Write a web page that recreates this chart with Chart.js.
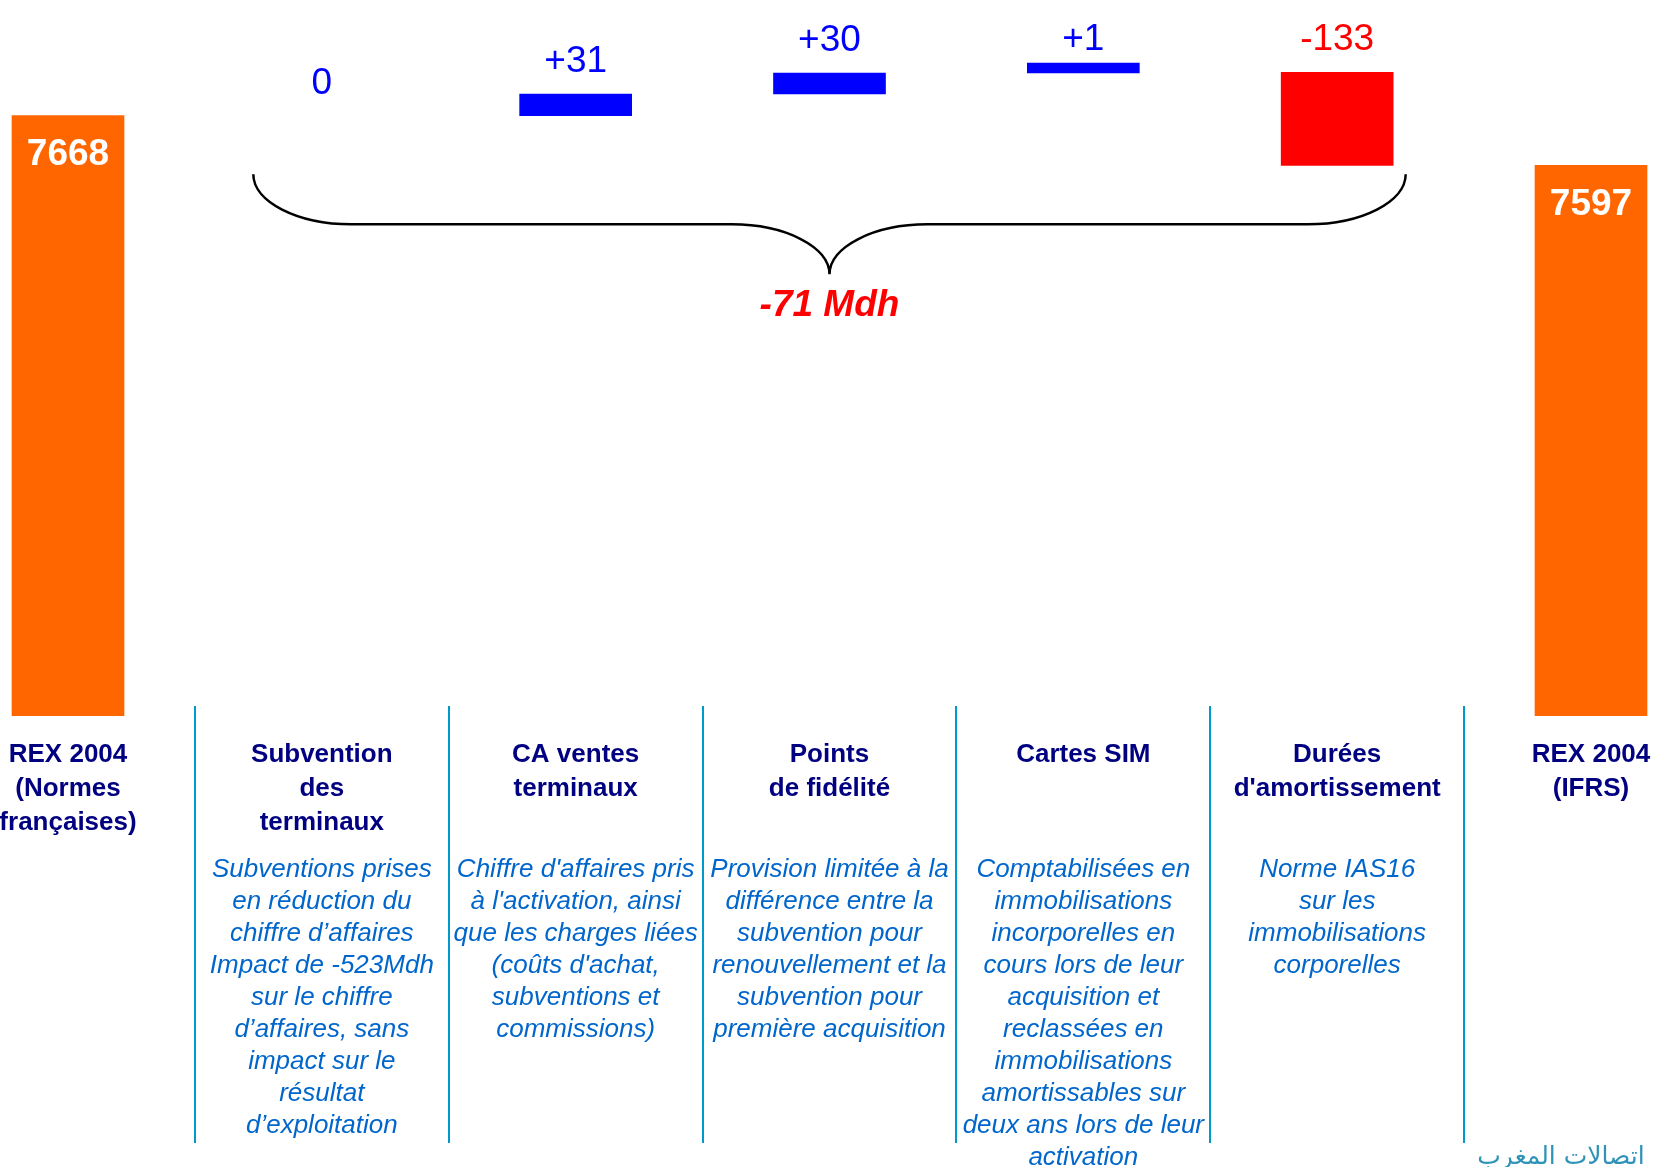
<!DOCTYPE html>
<html lang="fr">
<head>
<meta charset="utf-8">
<title>REX 2004 : passage des normes françaises aux IFRS</title>
<script src="https://cdn.jsdelivr.net/npm/chart.js@4.4.1/dist/chart.umd.min.js"></script>
<style>
  html, body { margin: 0; padding: 0; background: #ffffff; }
  #wrap { position: relative; width: 1657px; height: 1167px; }
</style>
</head>
<body>
<div id="wrap"><canvas id="bridge"></canvas></div>
<script>
// ---- Data (Mdh) ----
const categories = [
  ['REX 2004', '(Normes', 'françaises)'],
  ['Subvention', 'des', 'terminaux'],
  ['CA ventes', 'terminaux'],
  ['Points', 'de fidélité'],
  ['Cartes SIM'],
  ['Durées', "d'amortissement"],
  ['REX 2004', '(IFRS)']
];
const openingTotal = 7668;                 // REX 2004, normes françaises
const adjustments = [0, 31, 30, 1, -133];  // retraitements IFRS, dans l'ordre des colonnes
const closingTotal = 7597;                 // REX 2004, IFRS
const notes = [
  [],
  ['Subventions prises', 'en réduction du', 'chiffre d’affaires', 'Impact de -523Mdh', 'sur le chiffre', 'd’affaires, sans', 'impact sur le', 'résultat', 'd’exploitation'],
  ["Chiffre d'affaires pris", "à l'activation, ainsi", 'que les charges liées', "(coûts d'achat,", 'subventions et', 'commissions)'],
  ['Provision limitée à la', 'différence entre la', 'subvention pour', 'renouvellement et la', 'subvention pour', 'première acquisition'],
  ['Comptabilisées en', 'immobilisations', 'incorporelles en', 'cours lors de leur', 'acquisition et', 'reclassées en', 'immobilisations', 'amortissables sur', 'deux ans lors de leur', 'activation'],
  ['Norme IAS16', 'sur les', 'immobilisations', 'corporelles'],
  []
];
const unitLabel = 'Mdh';
const brandName = 'اتصالات المغرب';

// ---- Bridge construction ----
const n = categories.length;
const totals = new Array(n).fill(null);
totals[0] = openingTotal;
totals[n - 1] = closingTotal;
const ups = new Array(n).fill(null);
const downs = new Array(n).fill(null);
const steps = [];
let running = openingTotal;
adjustments.forEach((delta, i) => {
  const idx = i + 1;
  const from = running, to = running + delta;
  if (delta > 0) ups[idx] = [from, to];
  else if (delta < 0) downs[idx] = [from, to];
  steps.push({ idx, delta, from, to });
  running = to;
});
const netChange = adjustments.reduce((a, b) => a + b, 0);

const FONT = '"Liberation Sans", Arial, Helvetica, sans-serif';
const ORANGE = '#ff6600', BLUE = '#0000ff', RED = '#ff0000';
const NAVY = '#000080', NOTE_BLUE = '#0066cc', RULE_BLUE = '#0099cc';
const CANVAS_H = 1167;
const AXIS_BAND = 451;   // height reserved under the plot for labels and notes
// The value axis is truncated: columns rise from zero but only the top of the range is shown.
const AXIS_MIN = 6810, AXIS_MAX = 7819;

const annotations = {
  id: 'annotations',
  afterDatasetsDraw(chart) {
    const { ctx, chartArea, scales: { x, y } } = chart;
    const px = i => x.getPixelForValue(i);
    const step = px(1) - px(0);
    ctx.save();
    ctx.textAlign = 'center';
    ctx.textBaseline = 'middle';

    // Totals printed inside the orange columns
    ctx.font = 'bold 37px ' + FONT;
    ctx.fillStyle = '#ffffff';
    [[0, openingTotal], [n - 1, closingTotal]].forEach(([i, v]) => {
      ctx.fillText(String(v), px(i), y.getPixelForValue(v) + 39);
    });

    // Adjustment values above each step
    ctx.font = '37px ' + FONT;
    steps.forEach(s => {
      const top = y.getPixelForValue(Math.max(s.from, s.to));
      ctx.fillStyle = s.delta < 0 ? RED : BLUE;
      const txt = s.delta > 0 ? '+' + s.delta : String(s.delta);
      ctx.fillText(txt, px(s.idx), top - 32);
    });

    // Curly brace spanning the adjustments
    const first = steps[0].idx, last = steps[steps.length - 1].idx;
    const x0 = px(first) - 0.27 * step;
    const x1 = px(last) + 0.27 * step;
    const low = Math.min(...steps.map(s => Math.min(s.from, s.to)));
    const yEnd = y.getPixelForValue(low) + 9;
    const h = 50, w = 98, k = 0.55;
    const yBar = yEnd + h, yTip = yBar + h;
    const mid = (x0 + x1) / 2;
    ctx.beginPath();
    ctx.moveTo(x0, yEnd);
    ctx.bezierCurveTo(x0, yEnd + k * h, x0 + w - k * w, yBar, x0 + w, yBar);
    ctx.lineTo(mid - w, yBar);
    ctx.bezierCurveTo(mid - w + k * w, yBar, mid, yTip - k * h, mid, yTip);
    ctx.bezierCurveTo(mid, yTip - k * h, mid + w - k * w, yBar, mid + w, yBar);
    ctx.lineTo(x1 - w, yBar);
    ctx.bezierCurveTo(x1 - w + k * w, yBar, x1, yEnd + k * h, x1, yEnd);
    ctx.strokeStyle = '#000000';
    ctx.lineWidth = 2.5;
    ctx.stroke();

    ctx.font = 'italic bold 37px ' + FONT;
    ctx.fillStyle = RED;
    ctx.fillText(netChange + ' ' + unitLabel, mid, yTip + 31);

    // Column separators
    ctx.strokeStyle = RULE_BLUE;
    ctx.lineWidth = 2;
    for (let i = 0; i < n - 1; i++) {
      const xm = Math.round((px(i) + px(i + 1)) / 2);
      ctx.beginPath();
      ctx.moveTo(xm, chartArea.bottom - 10);
      ctx.lineTo(xm, chartArea.bottom + 427);
      ctx.stroke();
    }

    // Explanatory notes under each adjustment
    ctx.font = 'italic 26px ' + FONT;
    ctx.fillStyle = NOTE_BLUE;
    notes.forEach((lines, i) => {
      lines.forEach((line, j) => {
        ctx.fillText(line, px(i), chartArea.bottom + 154 + j * 32);
      });
    });

    // Company name, bottom right
    ctx.font = '25px "DejaVu Sans", sans-serif';
    ctx.fillStyle = '#2f93b8';
    ctx.textBaseline = 'alphabetic';
    ctx.fillText(brandName, chartArea.right - 30, CANVAS_H - 3);
    ctx.restore();
  }
};

// Keep bars inside the plot at the bottom (truncated axis) but let edge columns overflow sideways
const sideClip = { left: false, right: false, top: false, bottom: 0 };

new Chart(document.getElementById('bridge'), {
  type: 'bar',
  data: {
    labels: categories,
    datasets: [
      { label: 'REX', data: totals, backgroundColor: ORANGE, clip: sideClip },
      { label: 'Hausse', data: ups, backgroundColor: BLUE, clip: sideClip, minBarLength: 10 },
      { label: 'Baisse', data: downs, backgroundColor: RED, clip: sideClip }
    ]
  },
  options: {
    responsive: true,
    maintainAspectRatio: false,
    animation: false,
    events: [],
    grouped: false,
    barThickness: 112,
    skipNull: true,
    layout: { padding: { left: 68, right: 66, top: 10, bottom: 0 } },
    plugins: { legend: { display: false }, tooltip: { enabled: false } },
    scales: {
      x: {
        type: 'category',
        offset: false,
        border: { display: false },
        grid: { display: false },
        ticks: {
          autoSkip: false,
          maxRotation: 0,
          minRotation: 0,
          padding: 14,
          color: NAVY,
          font: { family: FONT, size: 26, weight: 'bold', lineHeight: '34px' }
        },
        afterFit(scale) {
          scale.height = AXIS_BAND;
          scale.paddingLeft = 0;
          scale.paddingRight = 0;
        }
      },
      y: {
        display: false,
        min: AXIS_MIN,
        max: AXIS_MAX
      }
    }
  },
  plugins: [annotations]
});
</script>
</body>
</html>
